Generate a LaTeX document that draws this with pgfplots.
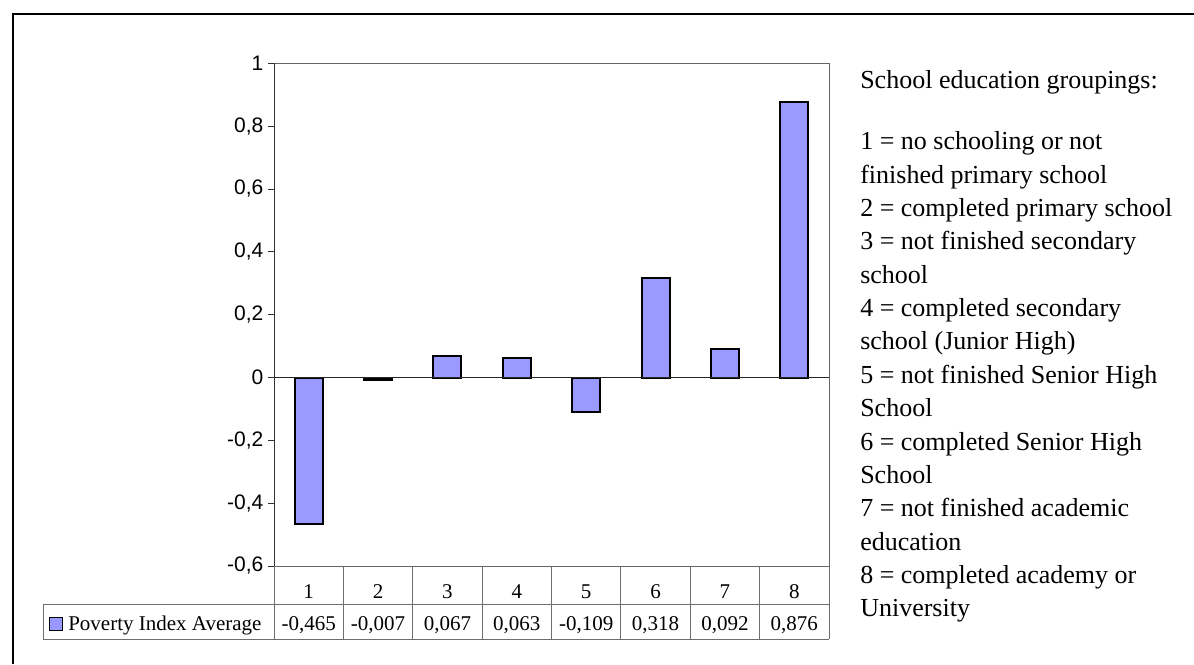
\documentclass[border=0pt]{standalone}
\usepackage{fontspec}
\setmainfont{Liberation Serif}
\newfontfamily\arial{Liberation Sans}
\usepackage{pgfplots}
\pgfplotsset{compat=1.18}
\definecolor{barblue}{RGB}{153,153,255}
\definecolor{tablegray}{RGB}{110,110,110}

\begin{document}
\begin{tikzpicture}
\useasboundingbox (0,0) rectangle (895.5pt,498pt);
% outer frame (top and left only)
\draw[line width=1.5pt] (10.1pt,0) -- (10.1pt,487.5pt) -- (895.5pt,487.5pt);

\begin{axis}[
    at={(205.5pt,73.5pt)}, anchor=south west,
    scale only axis, width=416.25pt, height=377pt,
    xmin=0.5, xmax=8.5, ymin=-0.6, ymax=1,
    xtick={1,2,3,4,5,6,7,8},
    xticklabels={1,2,3,4,5,6,7,8},
    major x tick style={draw=none},
    xticklabel style={anchor=base, inner sep=0pt, yshift=-19.5pt,
        font=\fontsize{15.75}{18}\selectfont},
    ytick={-0.6,-0.4,-0.2,0,0.2,0.4,0.6,0.8,1},
    yticklabels={{-0,6},{-0,4},{-0,2},0,{0,2},{0,4},{0,6},{0,8},1},
    ytick pos=left, tick align=outside, major tick length=4.5pt,
    major tick style={black!80, line width=0.6pt},
    yticklabel style={font=\arial\fontsize{15.75}{18}\selectfont},
    axis line style={draw=black!60, line width=0.6pt},
    ybar, bar width=21pt,
]
\addplot[fill=barblue, draw=black, line width=1.5pt]
    coordinates {(1,-0.465) (2,-0.007) (3,0.067) (4,0.063)
                 (5,-0.109) (6,0.318) (7,0.092) (8,0.876)};
\draw[black!85, line width=1pt] (axis cs:0.5,0) -- (axis cs:8.5,0);
\draw[black!80, line width=1.5pt] (rel axis cs:0,0) -- (rel axis cs:0,1);
\end{axis}

% data table below the axis
\draw[tablegray, line width=0.75pt] (32.25pt,45pt) -- (621.75pt,45pt)
    (32.25pt,18.75pt) -- (621.75pt,18.75pt)
    (32.25pt,45pt) -- (32.25pt,18.75pt);
\foreach \k in {0,...,8}
    \draw[tablegray, line width=0.75pt] ({205.5pt+\k*52.03pt},73.5pt) -- ({205.5pt+\k*52.03pt},18.75pt);
\draw[fill=barblue, line width=1.2pt] (37pt,25pt) rectangle (47pt,35pt);
\node[anchor=base west, inner sep=0pt, font=\fontsize{15.75}{18}\selectfont]
    at (51pt,25.3pt) {Poverty Index Average};
\foreach \v [count=\i] in {{-0,465},{-0,007},{0,067},{0,063},{-0,109},{0,318},{0,092},{0,876}}
    \node[anchor=base, inner sep=0pt, font=\fontsize{15.75}{18}\selectfont]
        at ({205.5pt+(\i-0.5)*52.03pt},25.3pt) {\v};

% explanation text on the right
\node[anchor=base west, inner sep=0pt, font=\fontsize{19.5}{25}\selectfont]
    at (645pt,431.25pt) {School education groupings:};
\foreach \t [count=\i from 0] in {
    1 = no schooling or not,
    finished primary school,
    2 = completed primary school,
    3 = not finished secondary,
    school,
    4 = completed secondary,
    school (Junior High),
    5 = not finished Senior High,
    School,
    6 = completed Senior High,
    School,
    7 = not finished academic,
    education,
    8 = completed academy or,
    University}
    \node[anchor=base west, inner sep=0pt, font=\fontsize{19.5}{25}\selectfont]
        at (645pt,{385.5pt-\i*25pt}) {\t};
\end{tikzpicture}
\end{document}
